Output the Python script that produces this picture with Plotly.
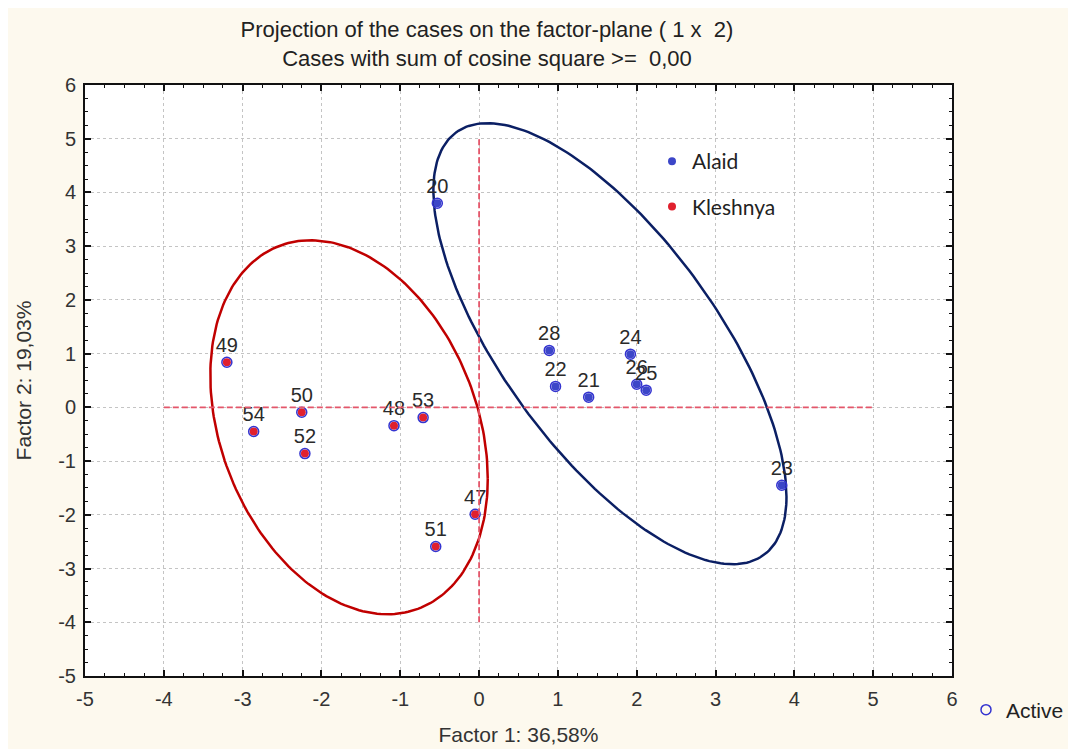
import numpy as np
import plotly.graph_objects as go

# ---- data ----
alaid_labels = ["20", "21", "22", "23", "24", "25", "26", "28"]
alaid_f1 = [-0.53, 1.39, 0.97, 3.84, 1.92, 2.12, 2.00, 0.89]
alaid_f2 = [3.80, 0.19, 0.39, -1.45, 0.99, 0.32, 0.43, 1.06]

kle_labels = ["47", "48", "49", "50", "51", "52", "53", "54"]
kle_f1 = [-0.05, -1.08, -3.20, -2.25, -0.55, -2.21, -0.71, -2.86]
kle_f2 = [-1.99, -0.34, 0.84, -0.09, -2.59, -0.86, -0.19, -0.45]

# ellipse parameters: centre, sd-x, sd-y, correlation
alaid_ell = dict(cx=1.66, cy=1.185, sx=2.24, sy=4.105, rho=-0.694)
kle_ell = dict(cx=-1.65, cy=-0.37, sx=1.76, sy=3.48, rho=-0.276)

ticks = list(range(-5, 7))
tick_text = [str(t) for t in ticks]

title_1 = "Projection of the cases on the factor-plane ( 1 x  2)"
title_2 = "Cases with sum of cosine square >=  0,00"
x_title = "Factor 1: 36,58%"
y_title = "Factor 2: 19,03%"

BLUE = "#3c46c8"
RED = "#e0202e"
RING = "#3434d0"
NAVY = "#0b1f64"
DARKRED = "#c00000"
CREAM = "#fdf9ee"
FONT = "Liberation Sans, Arial"


def ellipse(p, n=240):
    t = np.linspace(0, 2 * np.pi, n)
    x = p["cx"] + p["sx"] * np.cos(t)
    y = p["cy"] + p["sy"] * (p["rho"] * np.cos(t) + np.sqrt(1 - p["rho"] ** 2) * np.sin(t))
    return x, y


fig = go.Figure()

ex, ey = ellipse(alaid_ell)
fig.add_trace(go.Scatter(x=ex, y=ey, mode="lines", line=dict(color=NAVY, width=2.5),
                         showlegend=False, hoverinfo="skip"))
ex, ey = ellipse(kle_ell)
fig.add_trace(go.Scatter(x=ex, y=ey, mode="lines", line=dict(color=DARKRED, width=2.5),
                         showlegend=False, hoverinfo="skip"))

# filled group dots
fig.add_trace(go.Scatter(x=alaid_f1, y=alaid_f2, mode="markers", name="Alaid",
                         marker=dict(color=BLUE, size=8), legend="legend", legendgroup="a"))
fig.add_trace(go.Scatter(x=kle_f1, y=kle_f2, mode="markers", name="Kleshnya",
                         marker=dict(color=RED, size=8), legend="legend", legendgroup="k"))

# active rings
all_f1 = alaid_f1 + kle_f1
all_f2 = alaid_f2 + kle_f2
all_lab = alaid_labels + kle_labels
fig.add_trace(go.Scatter(x=all_f1, y=all_f2, mode="markers", name="Active",
                         marker=dict(symbol="circle-open", color=RING, size=10,
                                     line=dict(width=1.5, color=RING)),
                         legend="legend2"))

# case labels
fig.add_trace(go.Scatter(x=all_f1, y=all_f2, mode="markers+text", text=all_lab,
                         textposition="top center",
                         marker=dict(size=7, opacity=0),
                         textfont=dict(family=FONT, size=20, color="#2a2a2a"),
                         showlegend=False, hoverinfo="skip"))

shapes = [
    dict(type="line", xref="x", yref="y", x0=-4, x1=5, y0=0, y1=0,
         line=dict(color="#e4566a", width=1.8, dash="6px,3px"), layer="above"),
    dict(type="line", xref="x", yref="y", x0=0, x1=0, y0=-4, y1=5,
         line=dict(color="#e4566a", width=1.8, dash="6px,3px"), layer="above"),
]

axis_common = dict(
    tickmode="array", tickvals=ticks, ticktext=tick_text,
    showgrid=True, gridcolor="#c4c4c4", griddash="dot", gridwidth=1,
    zeroline=False, showline=True, linecolor="#111111", linewidth=2, mirror="ticks",
    ticks="inside", ticklen=6, tickwidth=1.5, tickcolor="#111111",
    minor=dict(dtick=0.25, ticks="inside", ticklen=3, tickcolor="#111111", tickwidth=1.2,
               showgrid=False),
    tickfont=dict(family=FONT, size=20, color="#333333"),
    range=[-5, 6],
)

fig.update_layout(
    width=1076, height=749,
    margin=dict(l=77, r=132, t=77, b=81),
    paper_bgcolor=CREAM, plot_bgcolor="white",
    title=dict(text=title_1 + "<br>" + title_2, x=479 / 1076, xanchor="center",
               y=1 - 29 / 749, yanchor="top",
               font=dict(family=FONT, size=22, color="#222222")),
    xaxis=dict(**axis_common, ticklabelstandoff=4,
               title=dict(text=x_title, standoff=18,
                          font=dict(family=FONT, size=21, color="#333333"))),
    yaxis=dict(**axis_common, ticklabelstandoff=3,
               title=dict(text=y_title, standoff=21,
                          font=dict(family=FONT, size=21, color="#333333"))),
    shapes=shapes,
    legend=dict(x=(652 - 85) / 867, y=(676 - 141) / 591, xanchor="left", yanchor="top",
                bgcolor="rgba(0,0,0,0)", tracegroupgap=15,
                font=dict(family="Lato, Open Sans", size=21, color="#222222")),
    legend2=dict(x=(966 - 85) / 867, y=(676 - 710) / 591, xanchor="left", yanchor="middle",
                 bgcolor="rgba(0,0,0,0)",
                 font=dict(family=FONT, size=21, color="#222222")),
    showlegend=True,
)

fig.write_html("out.html")
